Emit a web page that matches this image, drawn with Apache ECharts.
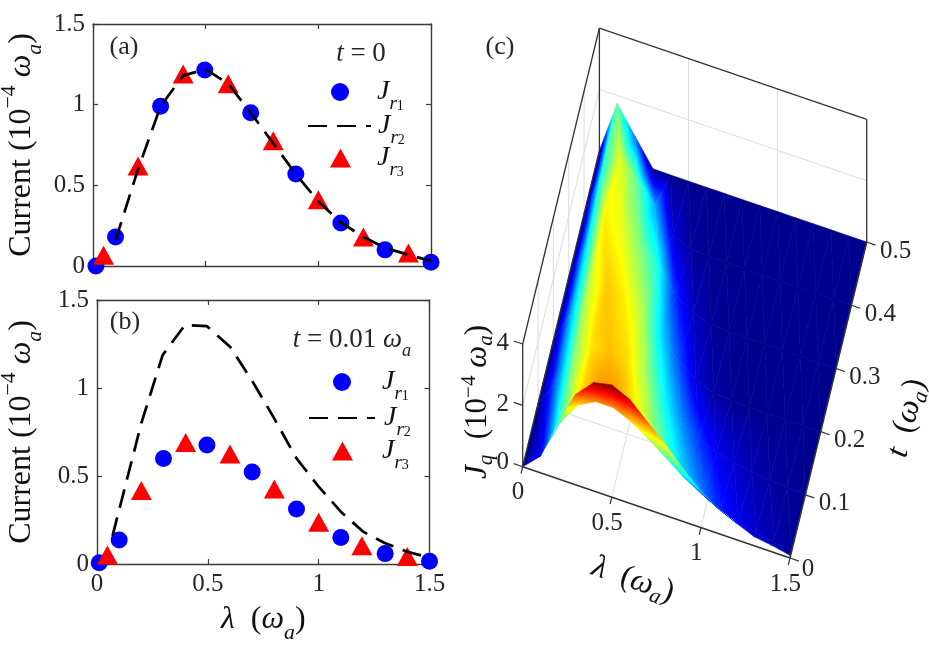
<!DOCTYPE html>
<html><head><meta charset="utf-8">
<style>html,body{margin:0;padding:0;background:#fff}#c{width:929px;height:651px}</style>
<script src="https://cdn.jsdelivr.net/npm/echarts@6/dist/echarts.min.js"></script>
</head><body><div id="c"></div>
<script>
// ---------- panel (a) t = 0 ----------
const aCirclesX = [0.013,0.1,0.3,0.496,0.7,0.9,1.1,1.296,1.5];
const aCirclesY = [0,0.18,0.99,1.215,0.95,0.57,0.267,0.1,0.023];
const aTrianglesX = [0.047,0.2,0.4,0.6,0.8,1.0,1.2,1.4];
const aTrianglesY = [0.066,0.62,1.19,1.13,0.777,0.41,0.18,0.08];
const aLineX = [0.1,0.2,0.3,0.4,0.5,0.6,0.7,0.8,0.9,1.0,1.1,1.2,1.3,1.4,1.5];
const aLineY = [0.16,0.6,0.99,1.18,1.22,1.13,0.95,0.76,0.57,0.4,0.27,0.18,0.11,0.07,0.03];
// ---------- panel (b) t = 0.01 ----------
const bCirclesX = [0.01,0.1,0.3,0.496,0.7,0.9,1.1,1.3,1.5];
const bCirclesY = [0.007,0.136,0.6,0.676,0.523,0.313,0.15,0.059,0.015];
const bTrianglesX = [0.047,0.2,0.4,0.6,0.8,1.0,1.195,1.4];
const bTrianglesY = [0.051,0.417,0.69,0.625,0.426,0.237,0.104,0.042];
const bLineX = [0.07,0.2,0.296,0.397,0.495,0.6,0.698,0.795,0.9,1.0,1.1,1.2,1.3,1.4,1.5];
const bLineY = [0.16,0.8,1.187,1.358,1.352,1.235,1.045,0.837,0.6,0.44,0.297,0.184,0.118,0.07,0.036];
// ---------- panel (c) surface J_q(lambda, t) ----------
const lambdaGrid = [0,0.1,0.2,0.3,0.4,0.5,0.6,0.7,0.8,0.9,1.0,1.1,1.2,1.3,1.4,1.5];
const tGrid = [0,0.01,0.1,0.2,0.3,0.4,0.5];
const zT000 = [0,0.54,1.83,2.97,3.54,3.66,3.39,2.85,2.31,1.71,1.2,0.81,0.54,0.3,0.21,0.09];
const zT001 = [0,0.46,1.62,2.4,2.72,2.72,2.46,2.07,1.64,1.21,0.87,0.56,0.37,0.23,0.12,0.05];
const zT010 = [0,0.85,1.85,2.4,2.52,2.42,2.0,1.45,1.0,0.65,0.4,0.25,0.15,0.08,0.04,0.01];
const zT020 = [0,1.1,2.1,2.48,2.33,2.0,1.3,0.75,0.3,0.08,0.02,0.01,0,0,0,0];
const zT030 = [0,1.25,2.35,2.2,1.85,1.45,0.6,0.2,0.04,0.01,0,0,0,0,0,0];
const zT040 = [0,1.5,2.2,1.7,1.05,0.3,0.05,0.01,0,0,0,0,0,0,0,0];
const zT050 = [0,1.74,0.87,0.01,0,0,0,0,0,0,0,0,0,0,0,0];
const surfaceZ = [zT000,zT001,zT010,zT020,zT030,zT040,zT050];
const lambdaTicks3D = [0,0.5,1,1.5];
const tTicks3D = [0,0.1,0.2,0.3,0.4,0.5];
const zTicks3D = [0,2,4];
const colorMax = 3.66;

const FONT = '"Liberation Serif", serif';
const INK = '#262626';

// oblique projection of panel (c) onto the page plane
function P(l,t,z){
  return [522.7 + l*178.2 + t*153.4, 466.7 + l*60.9 - t*632 - z*30.67];
}
const jetStops = [[0,'#00008f'],[0.125,'#0000ff'],[0.375,'#00ffff'],[0.625,'#ffff00'],[0.875,'#ff0000'],[1,'#800000']]
  .map(s=>({offset:s[0],color:s[1]}));
function jetAt(v){
  v=Math.max(0,Math.min(1,v));
  const h=c=>[1,3,5].map(k=>parseInt(c.substr(k,2),16));
  for(let i=1;i<jetStops.length;i++){
    if(v<=jetStops[i].offset){
      const a=jetStops[i-1],b=jetStops[i],f=(v-a.offset)/(b.offset-a.offset);
      const ca=h(a.color),cb=h(b.color);
      return 'rgb('+ca.map((x,k)=>Math.round(x+(cb[k]-x)*f)).join(',')+')';
    }
  }
  return '#800000';
}
// triangles of the surface, painted from the far edge to the near edge
const tris=[];
for(let j=tGrid.length-2;j>=0;j--){
  for(let i=0;i<lambdaGrid.length-1;i++){
    tris.push([[i,j+1],[i+1,j+1],[i+1,j]]);
    tris.push([[i,j+1],[i+1,j],[i,j]]);
  }
}
function triFill(p,v){
  const dx1=p[1][0]-p[0][0],dy1=p[1][1]-p[0][1],dx2=p[2][0]-p[0][0],dy2=p[2][1]-p[0][1];
  const det=dx1*dy2-dx2*dy1, dv1=v[1]-v[0], dv2=v[2]-v[0];
  if(Math.abs(det)<1e-6) return jetAt((v[0]+v[1]+v[2])/3);
  const a=(dv1*dy2-dv2*dy1)/det, b=(dx1*dv2-dx2*dv1)/det, g2=a*a+b*b;
  if(g2<1e-12) return jetAt(v[0]);
  const sx=p[0][0]-v[0]*a/g2, sy=p[0][1]-v[0]*b/g2;
  return new echarts.graphic.LinearGradient(sx,sy,sx+a/g2,sy+b/g2,jetStops,true);
}
function renderTri(params,api){
  const tr=tris[params.dataIndex];
  const pts=tr.map(q=>api.coord(P(lambdaGrid[q[0]],tGrid[q[1]],surfaceZ[q[1]][q[0]])));
  const vals=tr.map(q=>surfaceZ[q[1]][q[0]]/colorMax);
  const fill=triFill(pts,vals);
  return {type:'polygon',shape:{points:pts},style:{fill:fill,stroke:fill,lineWidth:0.6},silent:true};
}
// segments of the box of panel (c)
const GRIDC='#dcdcdc', FR='#333333';
const backSegs=[], frontSegs=[];
function seg(list,a,b,c,w){list.push({a:a,b:b,c:c,w:w});}
const LM=1.5,TM=0.5,ZM=4;
[0.5,1].forEach(l=>{
  seg(backSegs,P(l,0,0),P(l,TM,0),GRIDC,1);
  seg(backSegs,P(l,TM,0),P(l,TM,ZM),GRIDC,1);
});
[0.1,0.2,0.3,0.4].forEach(t=>{
  seg(backSegs,P(0,t,0),P(LM,t,0),GRIDC,1);
  seg(backSegs,P(0,t,0),P(0,t,ZM),GRIDC,1);
});
seg(backSegs,P(0,0,2),P(0,TM,2),GRIDC,1);
seg(backSegs,P(0,TM,2),P(LM,TM,2),GRIDC,1);
seg(backSegs,P(0,0,ZM),P(0,TM,ZM),FR,1.3);
seg(backSegs,P(0,TM,ZM),P(LM,TM,ZM),FR,1.3);
seg(backSegs,P(0,TM,0),P(0,TM,ZM),FR,1.3);
seg(backSegs,P(LM,TM,0),P(LM,TM,ZM),FR,1.3);
seg(frontSegs,P(0,0,0),P(LM,0,0),FR,1.5);
seg(frontSegs,P(LM,0,0),P(LM,TM,0),FR,1.5);
seg(frontSegs,P(0,0,0),P(0,0,ZM),FR,1.3);
seg(frontSegs,P(0,0,0),P(0,TM,0),FR,1.3);
lambdaTicks3D.forEach(l=>seg(frontSegs,P(l,0,0),P(l,-0.011,0),FR,1.2));
tTicks3D.forEach(t=>seg(frontSegs,P(LM,t,0),P(LM+0.05,t,0),FR,1.2));
zTicks3D.forEach(z=>seg(frontSegs,P(0,0,z),P(-0.05,0,z),FR,1.2));
function renderSeg(list){
  return function(params,api){
    const s=list[params.dataIndex], a=api.coord(s.a), b=api.coord(s.b);
    return {type:'line',shape:{x1:a[0],y1:a[1],x2:b[0],y2:b[1]},style:{stroke:s.c,lineWidth:s.w},silent:true};
  };
}
// rich-text helpers
function mathRich(S){
  return {
    n:{fontFamily:FONT,fontSize:S,color:'#111',lineHeight:S*1.5,verticalAlign:'middle'},
    i:{fontFamily:FONT,fontStyle:'italic',fontSize:S,color:'#111',lineHeight:S*1.5,verticalAlign:'middle'},
    sp:{fontFamily:FONT,fontSize:S*0.68,color:'#111',lineHeight:S*1.0,verticalAlign:'top'},
    sb:{fontFamily:FONT,fontStyle:'italic',fontSize:S*0.68,color:'#111',lineHeight:S*0.95,verticalAlign:'bottom'},
    ss:{fontFamily:FONT,fontSize:S*0.5,color:'#111',lineHeight:S*0.72,verticalAlign:'bottom'},
    g:{width:6,fontSize:S*0.5,lineHeight:S*0.5}
  };
}
const CURRENT='{n|Current (10}{sp|−4}{n| }{i|ω}{sb|a}{n|)}';
const LAMBDA_NAME='{i|λ}{n|  (}{i|ω}{sb|a}{n|)}';
// tick labels of panel (c), placed relative to the projected tick points
const labels3D=[];
lambdaTicks3D.forEach(l=>{
  const p=P(l,-0.011,0);
  labels3D.push({p:[p[0]-3,p[1]+19],text:String(l),size:25});
});
tTicks3D.forEach(t=>{
  const p=P(LM+0.05,t,0);
  labels3D.push({p:[p[0]+(t===0?9:20),p[1]+(t===0?8:6)],text:String(t),size:25});
});
zTicks3D.forEach(z=>{
  const p=P(-0.05,0,z);
  labels3D.push({p:[p[0]-11,p[1]+(z===0?-1:2)],text:String(z),size:25});
});
function renderLabel(params,api){
  const L=labels3D[params.dataIndex], p=api.coord(L.p);
  return {type:'text',x:p[0],y:p[1],style:{text:L.text,align:'center',verticalAlign:'middle',fill:INK,fontFamily:FONT,fontSize:L.size},silent:true};
}
function zipXY(x,y){return x.map((v,i)=>[v,y[i]]);}
const tickFont={color:INK,fontFamily:FONT,fontSize:25,formatter:v=>String(v)};
const boxLine={show:true,onZero:false,lineStyle:{color:'#3a3a3a',width:1.4}};
const boxTick={show:true,inside:true,length:5,lineStyle:{color:'#3a3a3a',width:1.2}};
function axisBase(g){
  return {gridIndex:g,type:'value',min:0,max:1.5,interval:0.5,splitLine:{show:false},axisLine:boxLine,axisTick:boxTick};
}
function xAxesFor(g,showX){
  const bottom={...axisBase(g),position:'bottom',axisLabel:{show:showX,margin:8,...tickFont}};
  if(showX){
    bottom.name=LAMBDA_NAME;
    bottom.nameLocation='middle';
    bottom.nameGap=32;
    bottom.nameTextStyle={rich:mathRich(32)};
  }
  return [bottom,{...axisBase(g),position:'top',axisLabel:{show:false}}];
}
function yAxesFor(g,gap){
  return [
    {...axisBase(g),position:'left',axisLabel:{show:true,margin:8,...tickFont},name:CURRENT,nameLocation:'middle',nameGap:gap,nameTextStyle:{rich:mathRich(32)}},
    {...axisBase(g),position:'right',axisLabel:{show:false}}
  ];
}
function panelSeries(xi,yi,cx,cy,tx,ty,lx,ly,suffix){
  return [
    {name:'J1'+suffix,type:'scatter',xAxisIndex:xi,yAxisIndex:yi,data:zipXY(cx,cy),symbol:'circle',symbolSize:17,clip:false,itemStyle:{color:'#0000ff',opacity:1}},
    {name:'J2'+suffix,type:'line',xAxisIndex:xi,yAxisIndex:yi,data:zipXY(lx,ly),showSymbol:false,symbol:'none',clip:false,lineStyle:{color:'#000',width:2.7,type:[19,10]},itemStyle:{color:'#000'}},
    {name:'J3'+suffix,type:'scatter',xAxisIndex:xi,yAxisIndex:yi,data:zipXY(tx,ty),symbol:'triangle',symbolSize:[21,19],clip:false,itemStyle:{color:'#ff0000',opacity:1}}
  ];
}
function legendFor(name,idx,left,cy,w,h,gap){
  return {
    data:[name],left:left,top:cy-13,padding:0,itemWidth:w,itemHeight:h,selectedMode:false,orient:'vertical',
    formatter:()=>'{g|}{i|J}{sb|r}{ss|'+idx+'}',
    textStyle:{rich:{...mathRich(28),g:{width:gap,fontSize:6,lineHeight:6}}}
  };
}
function indices(list){return list.map((_,i)=>[i,0]);}
function plotSeries(name,list,render,z){
  return {name:name,type:'custom',xAxisIndex:4,yAxisIndex:4,coordinateSystem:'cartesian2d',data:indices(list),renderItem:render,clip:false,silent:true,z:z,animation:false};
}
function gText(x,y,text,size){
  return {type:'text',x:x,y:y,z:20,silent:true,style:{text:text,rich:mathRich(size),align:'center',verticalAlign:'middle',fontFamily:FONT,fontSize:size,fill:INK}};
}
// a rotated math label assembled piece by piece along its baseline
const measureCtx=document.createElement('canvas').getContext('2d');
function rotatedLabel(cx,cy,rot,S,parts){
  const sized=parts.map(p=>{
    const fs=S*(p.s||1), st=p.it?'italic ':'';
    measureCtx.font=st+fs+'px "Liberation Serif"';
    return {...p,fs:fs,st:p.it?'italic':'normal',w:measureCtx.measureText(p.t).width};
  });
  const total=sized.reduce((a,p)=>a+p.w,0);
  let u=-total/2;
  const c=Math.cos(rot), s=Math.sin(rot);
  return sized.map(p=>{
    const mid=u+p.w/2, v=(p.dy||0)*S;
    u+=p.w;
    return {type:'text',x:cx+mid*c+v*s,y:cy-mid*s+v*c,rotation:rot,z:20,silent:true,
      style:{text:p.t,align:'center',verticalAlign:'middle',fontFamily:FONT,fontStyle:p.st,fontSize:p.fs,fill:'#111'}};
  });
}
const N=t=>({t:t}), I=t=>({t:t,it:true}), SUB=t=>({t:t,it:true,s:0.68,dy:0.27}), SUP=t=>({t:t,s:0.68,dy:-0.26});
const option={
  animation:false,
  backgroundColor:'#fff',
  grid:[
    {left:93,top:24,width:338,height:242,outerBoundsMode:'none'},
    {left:97,top:300,width:332.5,height:264,outerBoundsMode:'none'},
    {left:0,top:0,width:929,height:651,outerBoundsMode:'none'}
  ],
  xAxis:[...xAxesFor(0,false),...xAxesFor(1,true),{gridIndex:2,type:'value',min:0,max:929,show:false}],
  yAxis:[...yAxesFor(0,47),...yAxesFor(1,51),{gridIndex:2,type:'value',min:0,max:651,inverse:true,show:false}],
  legend:[
    legendFor('J1a',1,331,91,18,18,23),
    legendFor('J2a',2,307,125,63,1,2),
    legendFor('J3a',3,330,157,21,19,21),
    legendFor('J1b',1,333,381,18,18,26),
    legendFor('J2b',2,308,417,66,1,4),
    legendFor('J3b',3,332,450,21,19,24)
  ],
  series:[
    ...panelSeries(0,0,aCirclesX,aCirclesY,aTrianglesX,aTrianglesY,aLineX,aLineY,'a'),
    ...panelSeries(2,2,bCirclesX,bCirclesY,bTrianglesX,bTrianglesY,bLineX,bLineY,'b'),
    plotSeries('walls',backSegs,renderSeg(backSegs),2),
    plotSeries('surface',tris,renderTri,3),
    plotSeries('frame',frontSegs,renderSeg(frontSegs),4),
    plotSeries('labels3D',labels3D,renderLabel,5)
  ],
  graphic:[
    gText(124,47,'{n|(a)}',26),
    gText(125,322,'{n|(b)}',26),
    gText(500,47,'{n|(c)}',26),
    gText(361,54,'{i|t}{n| = 0}',27),
    gText(352,340,'{i|t}{n| = 0.01 }{i|ω}{sb|a}',27),
    ...rotatedLabel(478,402,Math.PI/2,31,[I('J'),SUB('q'),N('  (10'),SUP('−4'),N(' '),I('ω'),SUB('a'),N(')')]),
    ...rotatedLabel(633,580,-0.335,32,[I('λ'),N('  ('),I('ω'),SUB('a'),N(')')]),
    ...rotatedLabel(907,418,1.33,32,[I('t'),N('  ('),I('ω'),SUB('a'),N(')')])
  ]
};
const chart=echarts.init(document.getElementById('c'),null,{renderer:'canvas',width:929,height:651});
chart.setOption(option);
</script>
</body></html>
